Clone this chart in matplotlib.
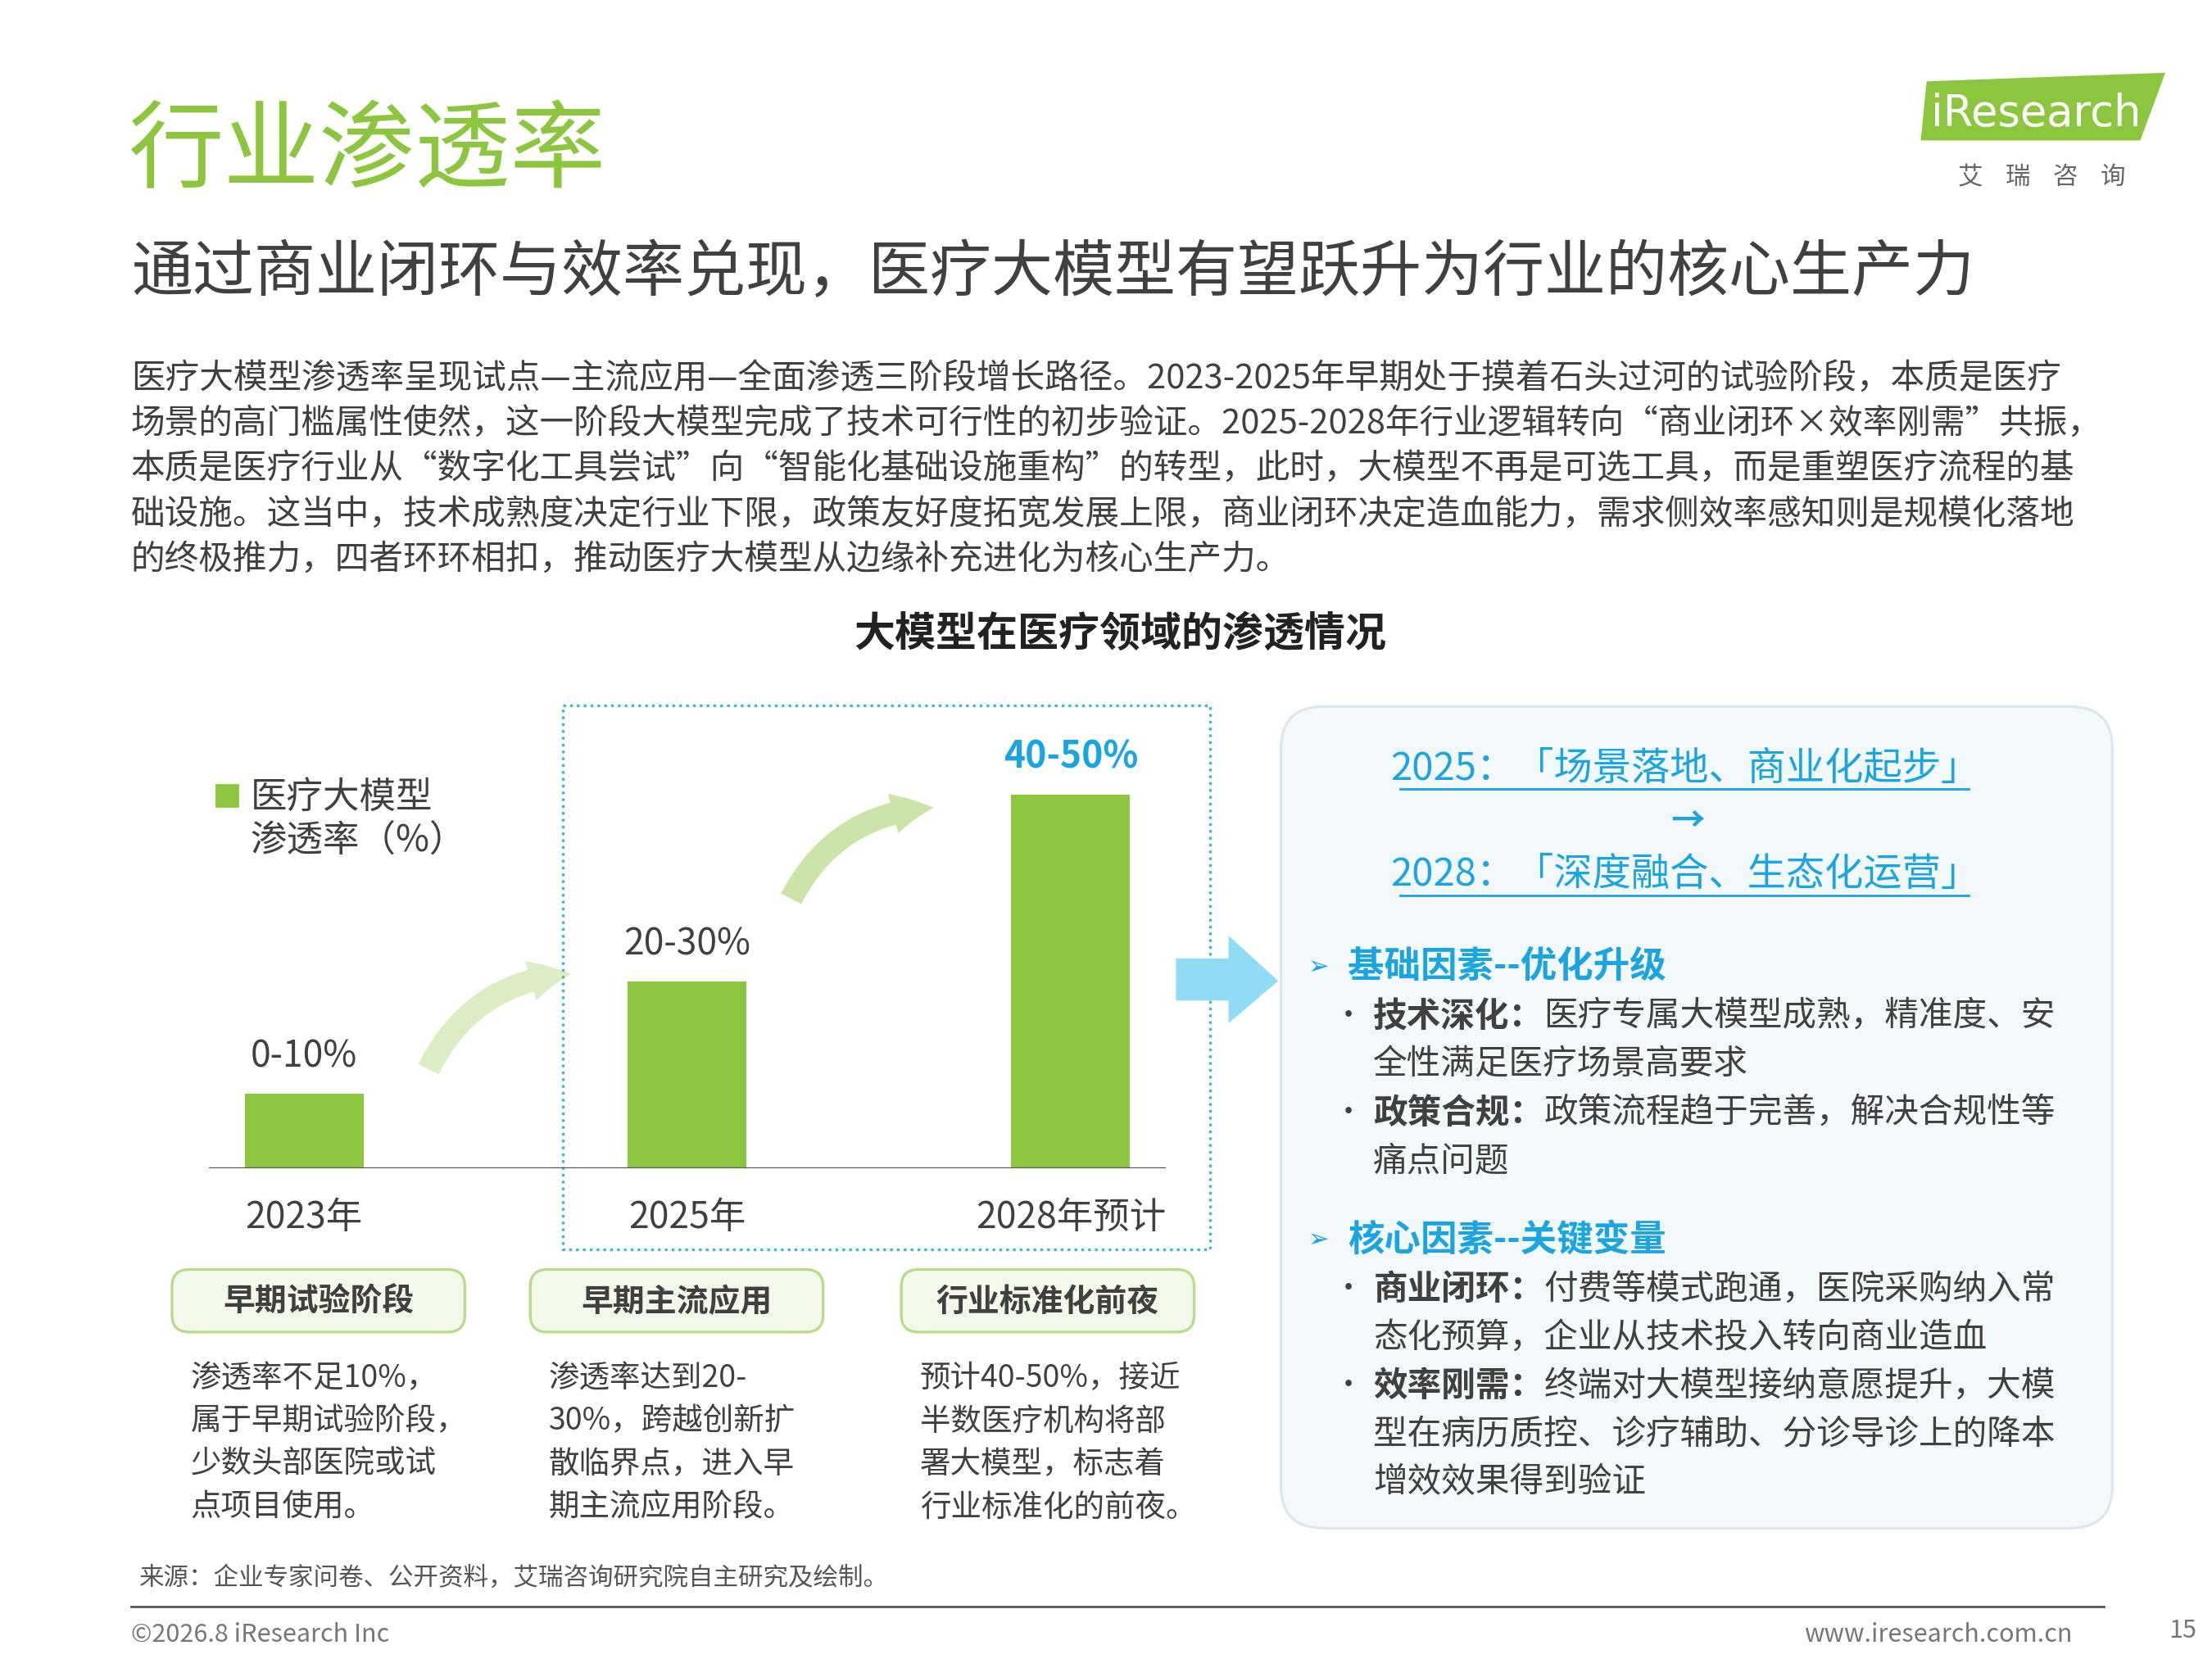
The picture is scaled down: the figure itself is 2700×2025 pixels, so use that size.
import matplotlib
matplotlib.use("Agg")
import matplotlib.pyplot as plt
from matplotlib.patches import FancyBboxPatch, Rectangle, FancyArrowPatch, Polygon

plt.rcParams['font.family'] = ['Noto Sans CJK SC', 'DejaVu Sans']

years = ["2023年", "2025年", "2028年预计"]
penetration = [10, 25, 50]
range_labels = ["0-10%", "20-30%", "40-50%"]
stage_names = ["早期试验阶段", "早期主流应用", "行业标准化前夜"]
stage_desc = [
    "渗透率不足10%，\n属于早期试验阶段，\n少数头部医院或试\n点项目使用。",
    "渗透率达到20-\n30%，跨越创新扩\n散临界点，进入早\n期主流应用阶段。",
    "预计40-50%，接近\n半数医疗机构将部\n署大模型，标志着\n行业标准化的前夜。",
]
body = ("医疗大模型渗透率呈现试点—主流应用—全面渗透三阶段增长路径。2023-2025年早期处于摸着石头过河的试验阶段，本质是医疗\n"
        "场景的高门槛属性使然，这一阶段大模型完成了技术可行性的初步验证。2025-2028年行业逻辑转向“商业闭环×效率刚需”共振，\n"
        "本质是医疗行业从“数字化工具尝试”向“智能化基础设施重构”的转型，此时，大模型不再是可选工具，而是重塑医疗流程的基\n"
        "础设施。这当中，技术成熟度决定行业下限，政策友好度拓宽发展上限，商业闭环决定造血能力，需求侧效率感知则是规模化落地\n"
        "的终极推力，四者环环相扣，推动医疗大模型从边缘补充进化为核心生产力。")

GREEN = "#8cc63f"
BLUE = "#1aa5e0"
GRAY = "#404040"
W, H = 1556, 1167

fig = plt.figure(figsize=(13.5, 10.125), dpi=200)
bg = fig.add_axes([0, 0, 1, 1])
bg.set_xlim(0, W)
bg.set_ylim(H, 0)
bg.axis("off")

# header
bg.text(90, 108, "行业渗透率", color=GREEN, fontsize=42, va="center")
bg.text(92, 192, "通过商业闭环与效率兑现，医疗大模型有望跃升为行业的核心生产力", color=GRAY, fontsize=27, va="center")
bg.text(92, 330, body, color=GRAY, fontsize=15, va="center", linespacing=1.45)
bg.text(788, 446, "大模型在医疗领域的渗透情况", color="#222222", fontsize=18, fontweight="bold", ha="center", va="center")

# logo
bg.add_patch(Polygon([[1356, 58], [1522, 52], [1505, 98], [1352, 98]], color=GREEN))
bg.text(1432, 80, "iResearch", color="white", fontsize=19, ha="center", va="center", family="DejaVu Sans")
bg.text(1436, 125, "艾    瑞    咨    询", color="#666666", fontsize=11, ha="center", va="center")

# dotted box around 2025-2028
bg.add_patch(Rectangle((396, 496), 455, 383, fill=False, ls=(0, (1, 1.5)), lw=1.2, ec="#3fb8c8"))

# bar chart
ax = fig.add_axes([147 / W, (H - 822) / H, (820 - 147) / W, (822 - 500) / H])
x = list(range(len(years)))
ax.bar(x, penetration, width=0.31, color=GREEN)
ax.set_xlim(-0.248, 2.248)
ax.set_ylim(0, 50 * 322 / 263)
ax.axis("off")
ax.axhline(0, color="#555555", lw=1.2)
for i, (v, lab) in enumerate(zip(penetration, range_labels)):
    ax.text(i, v + 2.5, lab, ha="center", va="bottom", fontsize=16,
            color=BLUE if i == 2 else GRAY, fontweight="bold" if i == 2 else "normal")
    ax.text(i, -6.5, years[i], ha="center", va="center", fontsize=16, color=GRAY, clip_on=False)

# legend
bg.add_patch(Rectangle((152, 552), 15, 15, color=GREEN))
bg.text(176, 576, "医疗大模型\n渗透率（%）", fontsize=16, color=GRAY, va="center", linespacing=1.2)

# curved arrows
for (x0, y0, x1, y1, a) in [(300, 755, 405, 685, 0.3), (555, 635, 660, 568, 0.45)]:
    bg.add_patch(FancyArrowPatch((x0, y0), (x1, y1), connectionstyle="arc3,rad=-0.3",
                                 arrowstyle="simple,head_width=18,head_length=18,tail_width=10",
                                 color=GREEN, alpha=a, lw=0))

# stage boxes
for cx, name, desc in zip([224, 476, 737], stage_names, stage_desc):
    bg.add_patch(FancyBboxPatch((cx - 103, 893), 206, 44, boxstyle="round,pad=0,rounding_size=12",
                                fc="#f3f9ea", ec="#b9dc8c", lw=1.2))
    bg.text(cx, 916, name, ha="center", va="center", fontsize=14, color=GRAY, fontweight="bold")
    bg.text(cx - 90, 1015, desc, ha="left", va="center", fontsize=13.5, color=GRAY, linespacing=1.45)

# arrow to right panel
bg.add_patch(Polygon([[828, 675], [865, 675], [865, 660], [898, 690], [865, 718], [865, 703], [828, 703]],
                     color="#8fdcf5"))

# right panel
bg.add_patch(FancyBboxPatch((901, 497), 585, 578, boxstyle="round,pad=0,rounding_size=30",
                            fc="#f3f8fb", ec="#dde8ee", lw=1.2))
bg.text(1185, 541, "2025：「场景落地、商业化起步」", ha="center", va="center", fontsize=17, color=BLUE, style="italic")
bg.plot([985, 1385], [555, 555], color=BLUE, lw=1)
bg.text(1187, 578, "→", ha="center", va="center", fontsize=15, color=BLUE, fontweight="bold")
bg.text(1185, 615, "2028：「深度融合、生态化运营」", ha="center", va="center", fontsize=17, color=BLUE, style="italic")
bg.plot([985, 1385], [630, 630], color=BLUE, lw=1)

def section(y, title, items):
    bg.text(920, y, "➢", color=BLUE, fontsize=11, va="center", family="DejaVu Sans")
    bg.text(948, y, title, color=BLUE, fontsize=16, va="center", fontweight="bold")
    yy = y + 35
    for head, lines in items:
        bg.text(938, yy, "•", color=GRAY, fontsize=13, va="center")
        t = bg.text(966, yy, head, color=GRAY, fontsize=15, va="center", fontweight="bold")
        bg.annotate(lines[0], xy=(1, 0.5), xycoords=t, va="center", ha="left", color=GRAY, fontsize=15)
        for k, ln in enumerate(lines[1:]):
            bg.text(966, yy + 34 * (k + 1), ln, color=GRAY, fontsize=15, va="center")
        yy += 34 * len(lines)

section(680, "基础因素--优化升级", [
    ("技术深化：", ["医疗专属大模型成熟，精准度、安", "全性满足医疗场景高要求"]),
    ("政策合规：", ["政策流程趋于完善，解决合规性等", "痛点问题"]),
])
section(872, "核心因素--关键变量", [
    ("商业闭环：", ["付费等模式跑通，医院采购纳入常", "态化预算，企业从技术投入转向商业造血"]),
    ("效率刚需：", ["终端对大模型接纳意愿提升，大模", "型在病历质控、诊疗辅助、分诊导诊上的降本", "增效效果得到验证"]),
])

# footer
bg.text(98, 1110, "来源：企业专家问卷、公开资料，艾瑞咨询研究院自主研究及绘制。", fontsize=11, color="#555555", va="center")
bg.plot([92, 1480], [1130, 1130], color="#555555", lw=1)
bg.text(92, 1150, "©2026.8 iResearch Inc", fontsize=11, color="#777777", va="center")
bg.text(1458, 1150, "www.iresearch.com.cn", fontsize=11, color="#777777", va="center", ha="right")
bg.text(1545, 1147, "15", fontsize=11, color="#777777", va="center", ha="right")

fig.savefig("out.png", dpi=200, facecolor="white")
